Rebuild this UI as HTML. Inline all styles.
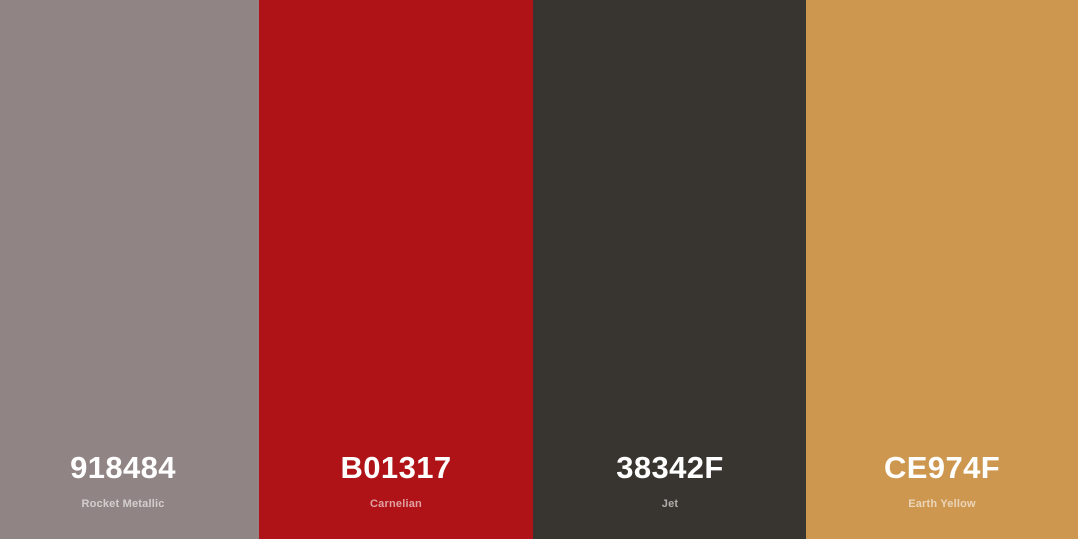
<!DOCTYPE html>
<html><head><meta charset="utf-8"><style>
html,body{margin:0;padding:0;width:1078px;height:539px;overflow:hidden;font-family:"Liberation Sans",sans-serif}
.c{position:absolute;top:0;height:539px}
.h{position:absolute;top:451px;width:300px;margin-left:-150px;text-align:center;color:#fff;font-weight:bold;font-size:31px;line-height:34px;letter-spacing:0.4px}
.n{position:absolute;top:497px;width:300px;margin-left:-150px;text-align:center;color:rgba(255,255,255,0.6);font-weight:bold;font-size:11px;line-height:14px;letter-spacing:0.2px}
</style></head><body>
<div class="c" style="left:0;width:259px;background:#918484"></div>
<div class="c" style="left:259px;width:274px;background:#B01317"></div>
<div class="c" style="left:533px;width:273px;background:#38342F"></div>
<div class="c" style="left:806px;width:272px;background:#CE974F"></div>
<div class="h" style="left:123px">918484</div>
<div class="n" style="left:123px">Rocket Metallic</div>
<div class="h" style="left:396px">B01317</div>
<div class="n" style="left:396px">Carnelian</div>
<div class="h" style="left:670px">38342F</div>
<div class="n" style="left:670px">Jet</div>
<div class="h" style="left:942px">CE974F</div>
<div class="n" style="left:942px">Earth Yellow</div>
</body></html>
